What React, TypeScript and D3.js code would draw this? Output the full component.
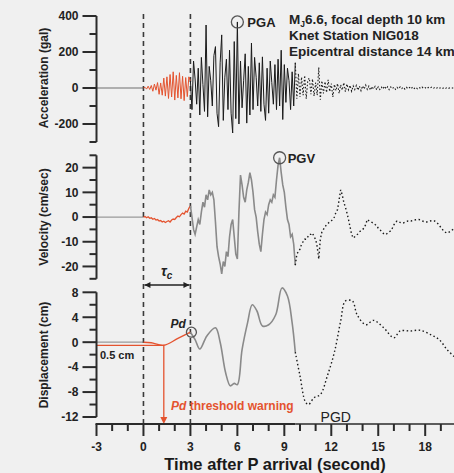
import React from "react";
import * as d3 from "d3";

// ---------------- DATA ----------------
const timeTicksMajor = [-3, 0, 3, 6, 9, 12, 15, 18];
const timeTicksMinor = [-2, -1, 1, 2, 4, 5, 7, 8, 10, 11, 13, 14, 16, 17, 19, 20];
const accTicksMajor = [400, 200, 0, -200];
const accTicksMinor = [300, 100, -100, -300];
const velTicksMajor = [20, 10, 0, -10, -20];
const velTicksMinor = [25, 15, 5, -5, -15, -25];
const dispTicksMajor = [8, 4, 0, -4, -8, -12];
const dispTicksMinor = [6, 2, -2, -6, -10];

const sampleStep = 0.1;
// acceleration (gal), red P-wave window from t=0
const accRed = [0, 4, -6, 10, -8, 14, -18, 22, -12, 30, -35, 28, -40, 55, -45, 62, -58, 75, -50, 90,
  -67, 70, -55, 85, -60, 65, -70, 58, -48, 62, 40];
// acceleration from t=3.0 to 9.7
const accMain = [40, -120, 150, 50, -90, 110, -150, 170, 20, -130,
  350, -160, 120, 40, -100, 180, 230, -140, -215, 140,
  295, -180, 60, 160, -120, 210, -140, -250, 258, -170,
  367, -200, 150, -110, 40, 190, -195, 120, -150, 250,
  -120, 170, 60, -100, 140, -130, 173, -90, -180, 110,
  -140, 150, 30, -90, 130, -120, 160, -100, 210, -175,
  130, -80, 110, 40, -120, 90, -100, 140];
// acceleration tail from t=9.8
const accTail = [-60, 80, -50, 60, -40, 70, -60, 45, 55, -35,
  50, -45, 30, -40, 115, -65, 40, -30, 35, -25,
  45, -20, 25, -50, 20, -15, 25, -30, 18, -12,
  30, -20, 22, -10, 15, -18, 12, -8, 14, -12,
  10, -15, 12, -6, 16, -8, 10, -12, 8, -5,
  9, -10, 6, -8, 5, -6, 10, -5, 7, -9,
  6, -4, 5, -7, 4, -5, 6, -3, 5, -6,
  4, -4, 3, -5, 6, -3, 4, -4, 3, -2,
  5, -3, 2, -4, 3, -2, 4, -3, 2, -3,
  3, -2, 2, -3, 2, -2, 3, -2, 2, -1,
  2, -2, 1];

// velocity (cm/sec)
const velRed = [0, 0.2, -0.3, 0.1, -0.5, -0.3, -0.9, -0.6, -1.2, -1.0, -1.6, -1.4, -2.0, -1.7, -2.2,
  -1.8, -1.5, -2.0, -1.2, -0.8, -1.0, -0.2, 0.4, 0.1, 1.0, 1.6, 1.2, 2.4, 2.0, 3.5, 4.5];
const velMain = [4.5, 0, -5, -7, -4, -1, -3, 2, 6, 4,
  9, 7, 11, 9, 10, 7, -2, -12, -16, -19,
  -23, -18, -20, -14, -16, -8, -3, -1, -8, -15,
  -17, 2, 17, 13, 8, 6, 11, 14, 18, 15,
  10, 3, 0, -6, -11, -14, -7, -1, 2, 1,
  5, 7, 6, 9, 8, 15, 21, 24, 18, 13,
  10, 4, -1, -3, -8, -7, -11, -19.5];
const velTail = [-15, -14, -13, -11, -10, -9, -9, -8, -7, -7,
  -6.5, -8, -9, -12, -17, -9, -6, -5, -4, -3,
  -2.5, -2, -1.5, -1, 0, 2, 3, 7, 11, 9,
  6, 4, 1.7, -1, -4, -7, -8.5, -8, -7.5, -6.8,
  -6, -5.5, -5, -4.5, -3, -1, -1.5, -1.8, -2.2, -2.4,
  -3, -3.5, -4.5, -5, -5.8, -6.5, -7, -7, -6.5, -6,
  -5.6, -4.5, -3.2, -2.2, -1.6, -1.8, -2.2, -2.4, -2.4, -2.1,
  -1.8, -1.6, -1.6, -1.6, -1.4, -1.2, -1.1, -1, -1, -1.2,
  -1.5, -1.8, -2, -2, -1.8, -1.6, -1.5, -1.6, -1.6, -2,
  -2.6, -3.4, -4.2, -5, -5.8, -6.2, -6.5, -6.2, -5.8, -5.3,
  -5, -5, -5];

// displacement (cm) as [time, value]
const dispRed: [number, number][] = [[0, 0], [0.5, -0.1], [1.3, -0.5], [2.2, 0.6], [3.0, 1.6]];
const dispMain: [number, number][] = [[3.0, 1.6], [3.3, 0.4], [3.6, -1.1], [4.05, 1.0], [4.6, 2.3], [4.9, 0],
  [5.25, -4.9], [5.55, -7], [5.8, -6.6], [6.0, -6.8], [6.3, -1.2], [6.65, 3.1], [6.95, 6], [7.25, 5],
  [7.6, 2.6], [8.0, 2.8], [8.45, 4.4], [8.85, 8.7], [9.2, 7.4], [9.5, 3.1], [9.7, -1.6]];
const dispTail: [number, number][] = [[9.7, -1.6], [10.0, -5.4], [10.35, -9.6], [10.55, -10], [10.9, -8.9],
  [11.3, -8.4], [11.75, -5.4], [12.2, -1.6], [12.6, 3.4], [12.9, 6.6], [13.35, 6.6], [13.65, 4.4],
  [14.2, 2.8], [14.7, 3.5], [15.35, 2.3], [16.0, 0.7], [16.4, 1.8], [17.05, 1.8], [17.7, 1.9],
  [18.35, 1.2], [18.9, 0.4], [19.4, -1.2], [19.85, -2.3], [20, -2.6]];

const pdThreshold = -0.5;
const pdTime = 1.3;
const tauStart = 0;
const tauEnd = 3;

// ---------------- LAYOUT ----------------
const W = 454;
const H = 473;
const FONT = "'Liberation Sans', Arial, Helvetica, sans-serif";
const RED = "#e4532f";
const GRAY = "#8a8a8a";
const AX = "#2b2b2b";

const x = d3.scaleLinear().domain([-3, 20]).range([96.5, 456.5]);
const yA = d3.scaleLinear().domain([-300, 400]).range([142, 16]);
const yV = d3.scaleLinear().domain([-25, 25]).range([278.8, 155.3]);
const yD = d3.scaleLinear().domain([-12, 8]).range([417, 292.3]);
const xAxisY = 424;

const toPairs = (vals: number[], t0: number): [number, number][] =>
  vals.map((v, i) => [t0 + i * sampleStep, v]);

function YAxis({ scale, major, minor, title, titleY }: any) {
  const [d0, d1] = scale.domain();
  const x0 = x(-3);
  return (
    <g>
      <line x1={x0} x2={x0} y1={scale(d0)} y2={scale(d1)} stroke={AX} strokeWidth={2} />
      {major.map((v: number) => (
        <g key={"M" + v}>
          <line x1={x0 - 14} x2={x0} y1={scale(v)} y2={scale(v)} stroke={AX} strokeWidth={2} />
          <text x={x0 - 18} y={scale(v)} dy="0.36em" textAnchor="end" fontSize={12} fontWeight="bold" fill="#222">
            {v}
          </text>
        </g>
      ))}
      {minor.map((v: number) => (
        <line key={"m" + v} x1={x0 - 7} x2={x0} y1={scale(v)} y2={scale(v)} stroke={AX} strokeWidth={2} />
      ))}
      <text transform={`translate(44,${titleY}) rotate(-90)`} textAnchor="middle" dominantBaseline="central"
        fontSize={12} fontWeight="bold" fill="#222">
        {title}
      </text>
    </g>
  );
}

export default function App() {
  const lineA = d3.line<[number, number]>().x((d) => x(d[0])).y((d) => yA(d[1]));
  const lineV = d3.line<[number, number]>().x((d) => x(d[0])).y((d) => yV(d[1]));
  const lineD = d3.line<[number, number]>().x((d) => x(d[0])).y((d) => yD(d[1])).curve(d3.curveCatmullRom);

  const accRedP = toPairs(accRed, 0);
  const accMainP = toPairs(accMain, 3);
  const accTailP: [number, number][] = [accMainP[accMainP.length - 1], ...toPairs(accTail, 9.8)];
  const velRedP = toPairs(velRed, 0);
  const velMainP = toPairs(velMain, 3);
  const velTailP: [number, number][] = [velMainP[velMainP.length - 1], ...toPairs(velTail, 9.8)];

  const pga = accMainP.reduce((a, b) => (Math.abs(b[1]) > Math.abs(a[1]) ? b : a));
  const pgv = velMainP.reduce((a, b) => (Math.abs(b[1]) > Math.abs(a[1]) ? b : a));
  const pgd = dispTail.reduce((a, b) => (b[1] < a[1] ? b : a));
  const pdPt = dispRed[dispRed.length - 1];

  const dashTop = 14;
  const tauY = 285;

  return (
    <svg width={W} height={H} style={{ position: "fixed", left: 0, top: 0 }} fontFamily={FONT}>
      <rect x={0} y={0} width={W} height={H} fill="#f0f0f0" />

      {/* pre-event zero lines */}
      <line x1={x(-3)} x2={x(0)} y1={yA(0)} y2={yA(0)} stroke="#9a9a9a" strokeWidth={1.3} />
      <line x1={x(-3)} x2={x(0)} y1={yV(0)} y2={yV(0)} stroke="#9a9a9a" strokeWidth={1.3} />
      <line x1={x(-3)} x2={x(0)} y1={yD(0)} y2={yD(0)} stroke="#9a9a9a" strokeWidth={1.3} />

      {/* dashed window lines */}
      {[tauStart, tauEnd].map((t) => (
        <line key={t} x1={x(t)} x2={x(t)} y1={dashTop} y2={xAxisY} stroke="#3a3a3a" strokeWidth={1.6}
          strokeDasharray="5 4" />
      ))}

      {/* acceleration */}
      <path d={lineA(accRedP) || ""} fill="none" stroke={RED} strokeWidth={1} />
      <path d={lineA(accMainP) || ""} fill="none" stroke="#1a1a1a" strokeWidth={1} />
      <path d={lineA(accTailP) || ""} fill="none" stroke="#1a1a1a" strokeWidth={1.1} strokeDasharray="1.5 2" />

      {/* velocity */}
      <path d={lineV(velRedP) || ""} fill="none" stroke={RED} strokeWidth={1.3} />
      <path d={lineV(velMainP) || ""} fill="none" stroke={GRAY} strokeWidth={1.6} />
      <path d={lineV(velTailP) || ""} fill="none" stroke="#1a1a1a" strokeWidth={1.4} strokeDasharray="1.5 2.5" />

      {/* displacement */}
      <line x1={x(-3)} x2={x(pdTime)} y1={yD(pdThreshold)} y2={yD(pdThreshold)} stroke={RED} strokeWidth={1.3} />
      <path d={lineD(dispRed) || ""} fill="none" stroke={RED} strokeWidth={1.4} />
      <path d={lineD(dispMain) || ""} fill="none" stroke={GRAY} strokeWidth={1.6} />
      <path d={lineD(dispTail) || ""} fill="none" stroke="#1a1a1a" strokeWidth={1.4} strokeDasharray="1.5 2.5" />
      <line x1={x(pdTime)} x2={x(pdTime)} y1={yD(pdThreshold)} y2={xAxisY - 5} stroke={RED} strokeWidth={1.3} />
      <path d={`M${x(pdTime) - 3.5},${xAxisY - 7} L${x(pdTime) + 3.5},${xAxisY - 7} L${x(pdTime)},${xAxisY} Z`} fill={RED} />

      {/* axes */}
      <YAxis scale={yA} major={accTicksMajor} minor={accTicksMinor} title="Acceleration (gal)" titleY={78} />
      <YAxis scale={yV} major={velTicksMajor} minor={velTicksMinor} title="Velocity (cm/sec)" titleY={217} />
      <YAxis scale={yD} major={dispTicksMajor} minor={dispTicksMinor} title="Displacement (cm)" titleY={355} />

      <line x1={x(-3) - 1} x2={x(9.7)} y1={xAxisY} y2={xAxisY} stroke={AX} strokeWidth={2.2} />
      <line x1={x(9.7)} x2={W} y1={xAxisY} y2={xAxisY} stroke={AX} strokeWidth={1.3} />
      {timeTicksMajor.map((t) => (
        <g key={"xt" + t}>
          <line x1={x(t)} x2={x(t)} y1={xAxisY} y2={xAxisY + 12} stroke={AX} strokeWidth={2} />
          <text x={x(t)} y={451} textAnchor="middle" fontSize={12} fontWeight="bold" fill="#222">{t}</text>
        </g>
      ))}
      {timeTicksMinor.map((t) => (
        <line key={"xm" + t} x1={x(t)} x2={x(t)} y1={xAxisY} y2={xAxisY + 7} stroke={AX} strokeWidth={2} />
      ))}
      <text x={275} y={470} textAnchor="middle" fontSize={16.5} fontWeight="bold" fill="#1a1a1a">
        Time after P arrival (second)
      </text>

      {/* tau_c arrow */}
      <line x1={x(tauStart) + 1} x2={x(tauEnd) - 1} y1={tauY} y2={tauY} stroke="#222" strokeWidth={1.3} />
      <path d={`M${x(tauStart) + 1},${tauY} l6,-3 l0,6 Z`} fill="#222" />
      <path d={`M${x(tauEnd) - 1},${tauY} l-6,-3 l0,6 Z`} fill="#222" />
      <text x={(x(tauStart) + x(tauEnd)) / 2 - 6} y={276} fontSize={14} fontWeight="bold" fontStyle="italic" fill="#222">
        τ<tspan fontSize={10} dy={3}>c</tspan>
      </text>

      {/* peak annotations */}
      <circle cx={x(pga[0])} cy={yA(pga[1])} r={6} fill="none" stroke="#555" strokeWidth={1.3} />
      <text x={x(pga[0]) + 10} y={yA(pga[1]) + 5} fontSize={13} fontWeight="bold" fill="#222">PGA</text>
      <circle cx={x(pgv[0])} cy={yV(pgv[1])} r={6} fill="none" stroke="#555" strokeWidth={1.3} />
      <text x={x(pgv[0]) + 8} y={yV(pgv[1]) + 5} fontSize={13} fontWeight="bold" fill="#222">PGV</text>
      <text x={x(pgd[0]) + 12} y={yD(pgd[1]) + 17} fontSize={14} fill="#222">PGD</text>
      <circle cx={x(pdPt[0]) + 1} cy={yD(pdPt[1])} r={5} fill="none" stroke="#555" strokeWidth={1.3} />
      <text x={x(pdPt[0]) - 20} y={yD(pdPt[1]) - 4} fontSize={12} fontWeight="bold" fontStyle="italic" fill="#222">Pd</text>
      <text x={100} y={359} fontSize={11} fontWeight="bold" fill="#222">0.5 cm</text>
      <text x={171} y={410} fontSize={12} fontWeight="bold" fill={RED}>
        <tspan fontStyle="italic">Pd</tspan> threshold warning
      </text>

      {/* event info */}
      <g fontSize={13.5} fontWeight="bold" fill="#222">
        <text x={289} y={24}>M<tspan fontSize={8.5} dy={3}>J</tspan><tspan dy={-3}>6.6, focal depth 10 km</tspan></text>
        <text x={289} y={40}>Knet Station NIG018</text>
        <text x={289} y={56}>Epicentral distance 14 km</text>
      </g>
    </svg>
  );
}
